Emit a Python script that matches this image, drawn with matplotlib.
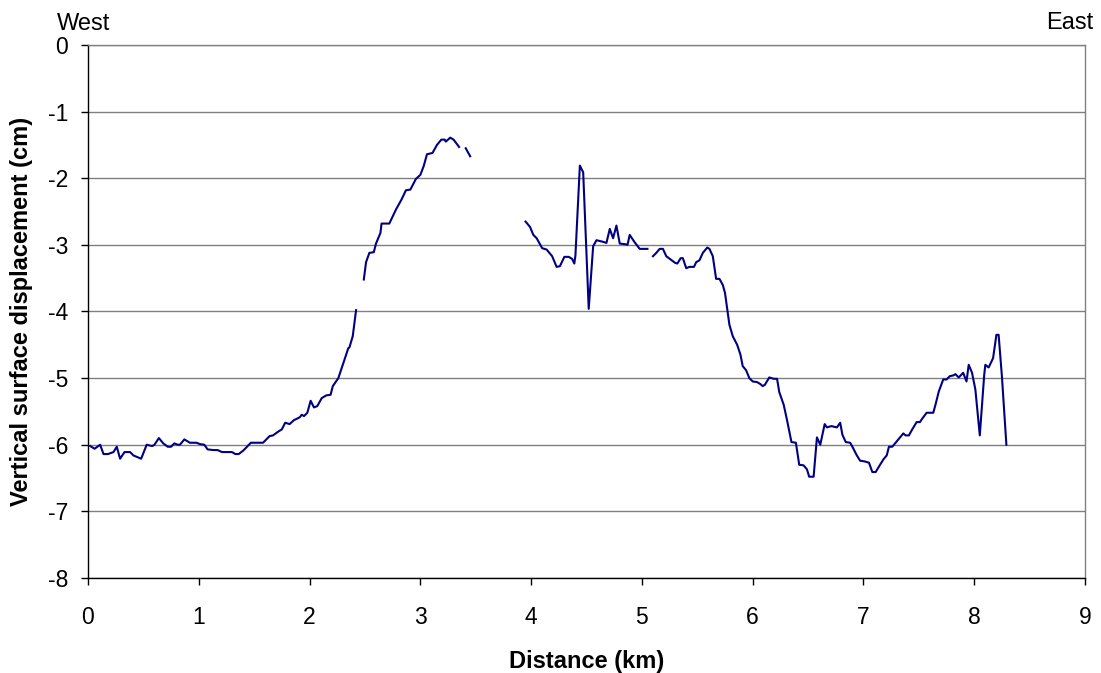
import numpy as np
import matplotlib
matplotlib.use("Agg")
import matplotlib.pyplot as plt

plt.rcParams['font.family'] = ['Liberation Sans', 'DejaVu Sans']
plt.rcParams['axes.unicode_minus'] = False

# segment 1 (west flank)
seg1_km = [0.02, 0.06, 0.11, 0.14, 0.18, 0.23, 0.26, 0.29, 0.33, 0.38, 0.41, 0.48,
           0.53, 0.58, 0.60, 0.64, 0.68, 0.72, 0.75, 0.78, 0.81, 0.83, 0.87, 0.92,
           0.98, 1.01, 1.05, 1.08, 1.13, 1.17, 1.21, 1.30, 1.33, 1.36, 1.40, 1.43,
           1.47, 1.58, 1.64, 1.67, 1.72, 1.75, 1.78, 1.82, 1.86, 1.91, 1.93, 1.95,
           1.98, 2.01, 2.04, 2.07, 2.11, 2.15, 2.19, 2.21, 2.26, 2.30, 2.35, 2.36,
           2.39, 2.42]
seg1_cm = [-6.02, -6.06, -6.00, -6.14, -6.14, -6.11, -6.03, -6.21, -6.11, -6.11, -6.16, -6.21,
           -6.00, -6.02, -6.00, -5.90, -5.98, -6.03, -6.03, -5.98, -6.00, -6.00, -5.92, -5.97,
           -5.97, -5.99, -6.00, -6.07, -6.08, -6.08, -6.11, -6.11, -6.14, -6.14, -6.09, -6.04,
           -5.97, -5.97, -5.87, -5.86, -5.80, -5.77, -5.67, -5.69, -5.63, -5.59, -5.55, -5.57,
           -5.52, -5.34, -5.44, -5.42, -5.30, -5.26, -5.25, -5.12, -5.00, -4.80, -4.55, -4.54,
           -4.37, -3.98]

# segment 2 (rise to crest)
seg2_km = [2.49, 2.51, 2.54, 2.58, 2.60, 2.64, 2.65, 2.72, 2.78, 2.83, 2.87, 2.91,
           2.96, 3.00, 3.03, 3.06, 3.11, 3.15, 3.19, 3.22, 3.23, 3.27, 3.30, 3.35]
seg2_cm = [-3.52, -3.26, -3.12, -3.11, -2.98, -2.82, -2.68, -2.68, -2.47, -2.32, -2.18, -2.17,
           -2.01, -1.95, -1.82, -1.64, -1.62, -1.50, -1.42, -1.42, -1.45, -1.39, -1.42, -1.53]

seg3_km = [3.41, 3.45]
seg3_cm = [-1.55, -1.67]

# segment 4 (central part)
seg4_km = [3.95, 3.99, 4.02, 4.05, 4.10, 4.14, 4.19, 4.23, 4.26, 4.30, 4.34, 4.37,
           4.39, 4.40, 4.44, 4.47, 4.52, 4.56, 4.59, 4.64, 4.68, 4.71, 4.74, 4.77,
           4.80, 4.85, 4.87, 4.89, 4.93, 4.98, 5.05]
seg4_cm = [-2.65, -2.73, -2.85, -2.90, -3.05, -3.07, -3.17, -3.33, -3.32, -3.18, -3.18, -3.21,
           -3.28, -3.16, -1.81, -1.91, -3.96, -3.02, -2.93, -2.95, -2.97, -2.76, -2.90, -2.71,
           -2.98, -2.99, -3.00, -2.85, -2.95, -3.06, -3.06]

# segment 5 (east flank)
seg5_km = [5.10, 5.13, 5.16, 5.19, 5.22, 5.26, 5.30, 5.32, 5.35, 5.37, 5.40, 5.43,
           5.47, 5.49, 5.52, 5.55, 5.59, 5.61, 5.64, 5.67, 5.70, 5.73, 5.75, 5.78,
           5.79, 5.82, 5.86, 5.89, 5.91, 5.94, 5.97, 6.00, 6.04, 6.07, 6.09, 6.11,
           6.15, 6.19, 6.22, 6.24, 6.28, 6.31, 6.35, 6.39, 6.42, 6.46, 6.49, 6.51,
           6.55, 6.58, 6.61, 6.65, 6.67, 6.71, 6.76, 6.79, 6.81, 6.84, 6.88, 6.90,
           6.94, 6.97, 7.01, 7.05, 7.08, 7.11, 7.15, 7.18, 7.21, 7.23, 7.26, 7.30,
           7.36, 7.38, 7.41, 7.44, 7.48, 7.51, 7.53, 7.57, 7.63, 7.65, 7.68, 7.72,
           7.75, 7.78, 7.81, 7.83, 7.86, 7.90, 7.93, 7.95, 7.98, 8.01, 8.05, 8.09,
           8.10, 8.13, 8.17, 8.20, 8.22, 8.25, 8.29]
seg5_cm = [-3.17, -3.12, -3.06, -3.06, -3.17, -3.22, -3.27, -3.28, -3.20, -3.20, -3.35, -3.33,
           -3.33, -3.26, -3.23, -3.12, -3.04, -3.06, -3.17, -3.51, -3.51, -3.60, -3.72, -4.08,
           -4.20, -4.37, -4.50, -4.65, -4.82, -4.88, -5.00, -5.05, -5.06, -5.09, -5.12, -5.10,
           -4.99, -5.01, -5.01, -5.21, -5.40, -5.63, -5.96, -5.97, -6.30, -6.31, -6.37, -6.48,
           -6.48, -5.89, -6.00, -5.69, -5.74, -5.72, -5.74, -5.67, -5.85, -5.96, -5.97, -6.03,
           -6.16, -6.24, -6.25, -6.27, -6.41, -6.41, -6.30, -6.22, -6.16, -6.03, -6.03, -5.95,
           -5.83, -5.86, -5.86, -5.77, -5.66, -5.66, -5.61, -5.52, -5.52, -5.40, -5.20, -5.02,
           -5.02, -4.97, -4.96, -4.94, -4.99, -4.92, -5.05, -4.80, -4.92, -5.17, -5.86, -4.95,
           -4.80, -4.84, -4.70, -4.35, -4.35, -4.98, -6.00]

segments = [(seg1_km, seg1_cm), (seg2_km, seg2_cm), (seg3_km, seg3_cm),
            (seg4_km, seg4_cm), (seg5_km, seg5_cm)]

x_ticks = list(range(0, 10))
y_ticks = list(range(-8, 1))


def main():
    fig = plt.figure(figsize=(11.01, 6.73), dpi=100)
    ax = fig.add_axes([0.0799, 0.1412, 0.9056, 0.7919])

    for km, cm in segments:
        ax.plot(km, cm, color='#000080', linewidth=1.5)

    ax.set_xlim(0, 9)
    ax.set_ylim(-8, 0)
    ax.set_xticks(x_ticks)
    ax.set_yticks(y_ticks)
    ax.yaxis.grid(True, color='#808080', linewidth=1)
    ax.set_axisbelow(True)

    for side in ['top', 'right']:
        ax.spines[side].set_color('#808080')
        ax.spines[side].set_linewidth(1)
    for side in ['left', 'bottom']:
        ax.spines[side].set_color('black')
        ax.spines[side].set_linewidth(1)

    ax.tick_params(axis='x', direction='out', length=5, width=1, pad=15.5, labelsize=16.5)
    ax.tick_params(axis='y', direction='out', length=5, width=1, pad=9.4, labelsize=16.5)

    ax.set_xlabel("Distance (km)", fontsize=17, fontweight='bold', labelpad=15)
    ax.set_ylabel("Vertical surface displacement (cm)", fontsize=17, fontweight='bold',
                  labelpad=10.5)

    fig.text(57 / 1101, 1 - 30 / 673, "West", fontsize=17, ha='left', va='baseline')
    fig.text(1093 / 1101, 1 - 29 / 673, "East", fontsize=17, ha='right', va='baseline')

    fig.savefig("out.png", dpi=100)


if __name__ == "__main__":
    main()
